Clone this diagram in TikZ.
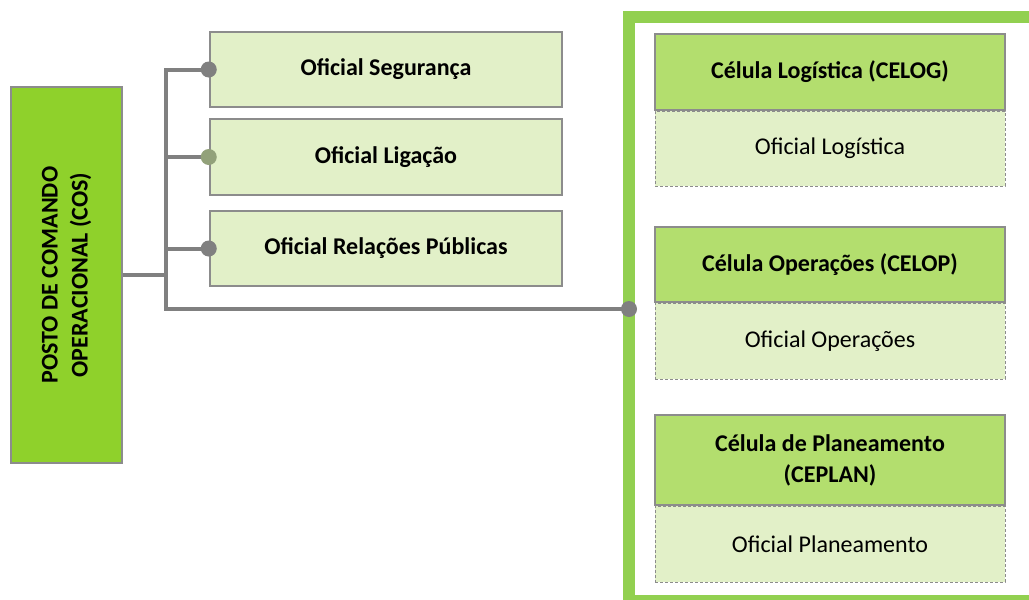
\documentclass[tikz,border=0pt]{standalone}
\usepackage{fontspec}
\setmainfont{Carlito}
\definecolor{frameg}{HTML}{92D050}
\definecolor{cosg}{HTML}{8FD12B}
\definecolor{headg}{HTML}{B3DE6E}
\definecolor{lightg}{HTML}{E2F0C8}
\definecolor{lineg}{HTML}{808080}
\definecolor{bord}{HTML}{8C8C8C}
\begin{document}
\begin{tikzpicture}[x=1pt,y=-1pt,
  conn/.style={draw=lineg,line width=4pt},
  dotc/.style={circle,fill=lineg,inner sep=0pt,minimum size=16pt},
  lbox/.style={draw=bord,line width=2.5pt,fill=lightg,minimum width=352pt,font=\fontsize{24}{29}\selectfont\bfseries,inner sep=0pt},
  hbox/.style={draw=bord,line width=1.2pt,fill=headg,minimum width=350pt,font=\fontsize{24}{31}\selectfont\bfseries,align=center,inner sep=0pt},
  dbox/.style={draw=bord,line width=1pt,dash pattern=on 3pt off 2pt,fill=lightg,minimum width=350pt,font=\fontsize{24}{29}\selectfont,inner sep=0pt},
  cosbox/.style={draw=bord,line width=1.2pt,fill=cosg,minimum width=111pt,minimum height=376pt,inner sep=0pt,font=\fontsize{24}{30}\selectfont\bfseries}]
\clip (0,0) rectangle (1029,600);
\fill[white] (0,0) rectangle (1029,600);
% frame
\draw[frameg,line width=12pt] (1045,17) -- (629,17) -- (629,601) -- (1045,601);
% COS
\node[cosbox] (cos) at (66.5,275) {\rotatebox{90}{\begin{tabular}{@{}c@{}}POSTO DE COMANDO\\OPERACIONAL (COS)\end{tabular}}};
% left boxes
\node[lbox,minimum height=75pt] (seg) at (386,69.5) {Oficial Segurança};
\node[lbox,minimum height=76pt] (lig) at (386,157) {Oficial Ligação};
\node[lbox,minimum height=75pt] (rel) at (386,248.5) {Oficial Relações Públicas};
% right boxes
\node[hbox,minimum height=76pt] (celog) at (830,72) {Célula Logística (CELOG)};
\node[dbox,minimum height=75pt,anchor=north] (olog) at (celog.south) {Oficial Logística};
\node[hbox,minimum height=75pt] (celop) at (830,264.5) {Célula Operações (CELOP)};
\node[dbox,minimum height=76pt,anchor=north] (oop) at (celop.south) {Oficial Operações};
\node[hbox,minimum height=90pt] (ceplan) at (830,460) {Célula de Planeamento\\(CEPLAN)};
\node[dbox,minimum height=76pt,anchor=north] (opl) at (ceplan.south) {Oficial Planeamento};
% connectors
\coordinate (tb) at (166,309);
\coordinate (fdot) at (629,309);
\draw[conn] (seg.west) -| (tb) -- (fdot);
\draw[conn] (lig.west) -- (lig.west -| tb);
\draw[conn] (rel.west) -- (rel.west -| tb);
\draw[conn] (cos.east) -- (cos.east -| tb);
\node[dotc] at (seg.west) {};
\node[dotc,fill=lineg!65!headg] at (lig.west) {};
\node[dotc] at (rel.west) {};
\node[dotc] at (fdot) {};
\end{tikzpicture}
\end{document}
